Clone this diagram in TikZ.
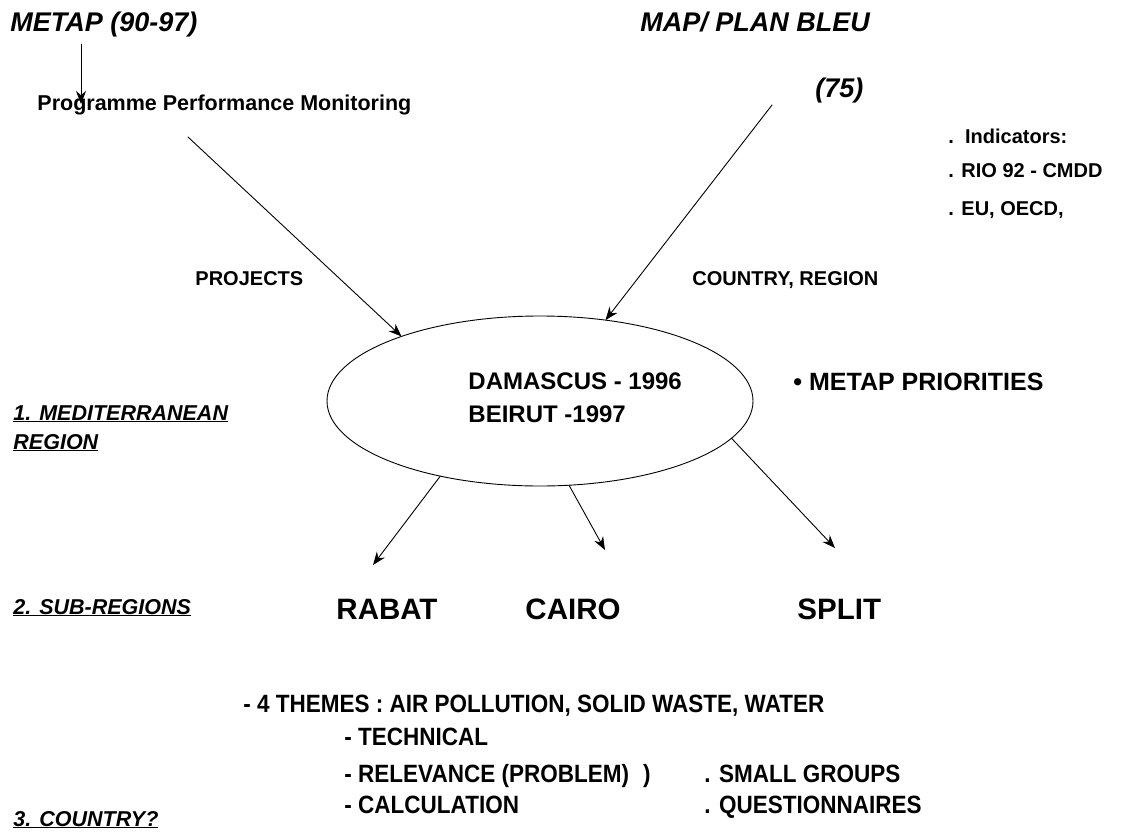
\documentclass[tikz,border=0pt]{standalone}
\usepackage{fontspec}
\setmainfont{Liberation Sans}
\newfontfamily\narrowfont[FakeStretch=0.9]{Liberation Sans}
\usetikzlibrary{arrows.meta,shapes.geometric}
\begin{document}
\begin{tikzpicture}[x=1pt, y=-1pt, line join=round, line cap=round, line width=0.9pt,
    >={Stealth[length=13pt,width=10pt]},
    txt/.style={anchor=base west, inner sep=0pt, font=\bfseries\fontsize{20}{24}\selectfont},
    big/.style={txt, font=\bfseries\itshape\fontsize{27}{32}\selectfont},
    mid/.style={txt, font=\bfseries\fontsize{24}{28}\selectfont},
    sect/.style={txt, font=\bfseries\itshape\fontsize{21.5}{26}\selectfont},
    city/.style={txt, font=\bfseries\fontsize{29.5}{34}\selectfont},
    narrow/.style={txt, font=\narrowfont\bfseries\fontsize{25}{29}\selectfont}]
	\useasboundingbox (0,0) rectangle (1140,835);
	
	% sources
	\node[big] (metap) at (10,31) {METAP (90-97)};
	\node[big] (plan) at (640,31) {MAP/ PLAN BLEU};
	\node[big] (yr) at (815,97) {(75)};
	\node[txt, font=\bfseries\fontsize{21.5}{26}\selectfont] (ppm) at (37,110) {Programme Performance Monitoring};
	\node[txt] (ind) at (948,143) {.\ \ Indicators:};
	\node[txt] (rio) at (948,177) {. RIO 92 - CMDD};
	\node[txt] (eu) at (948,215) {. EU, OECD,};
	\node[txt] (proj) at (195,285) {PROJECTS};
	\node[txt] (ctry) at (692,285) {COUNTRY, REGION};
	
	% region
	\node[draw, ellipse, minimum width=426pt, minimum height=170pt, inner sep=0pt, outer sep=0pt] (med) at (540,401) {};
	\node[mid] (dam) at (468,389) {DAMASCUS - 1996};
	\node[mid] (bei) at (468,422) {BEIRUT -1997};
	\node[mid, font=\bfseries\fontsize{25}{29}\selectfont] (prio) at (793,390) {\textbullet\ METAP PRIORITIES};
	\node[sect] (s1) at (13,420) {\underline{1. MEDITERRANEAN}};
	\node[sect] (s1b) at (13,449) {\underline{REGION}};
	
	% sub-regions
	\node[sect] (s2) at (13,614) {\underline{2. SUB-REGIONS}};
	\node[city] (rabat) at (336,619) {RABAT};
	\node[city] (cairo) at (525,619) {CAIRO};
	\node[city] (split) at (797,619) {SPLIT};
	
	% country
	\node[narrow] (thm) at (243,712) {- 4 THEMES : AIR POLLUTION, SOLID WASTE, WATER};
	\node[narrow] (tech) at (344,745) {- TECHNICAL};
	\node[narrow] (rel) at (344,782) {- RELEVANCE (PROBLEM)\hspace{14pt})};
	\node[narrow] (calc) at (344,813) {- CALCULATION};
	\node[narrow] (grp) at (704,782) {. SMALL GROUPS};
	\node[narrow] (qst) at (704,813) {. QUESTIONNAIRES};
	\node[sect] (s3) at (13,826) {\underline{3. COUNTRY?}};
	
	\path
	(81,44) coordinate (mA)
	(81,104) coordinate (mB)
	(188,137) coordinate (pA)
	(772,105) coordinate (cA)
	(373,565) coordinate (rT)
	(605,550) coordinate (cT)
	(835,548) coordinate (sT);
	
	\draw[->] (mA) -- (mB);
	\draw[->] (pA) -- (med.155);
	\draw[->] (cA) -- (med.51);
	\draw[->] (med.217) -- (rT);
	\draw[->] (med.289) -- (cT);
	\draw[->] (med.349) -- (sT);
\end{tikzpicture}
\end{document}
